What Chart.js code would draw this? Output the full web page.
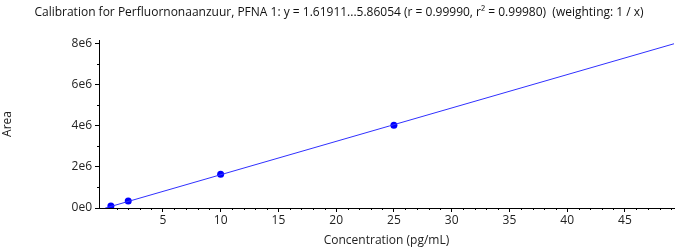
<!DOCTYPE html>
<html>
<head>
<meta charset="utf-8">
<script src="https://cdn.jsdelivr.net/npm/chart.js@4/dist/chart.umd.min.js"></script>
<style>
  html, body { margin: 0; padding: 0; background: #fff; }
  #wrap { width: 678px; height: 248px; position: relative; }
</style>
</head>
<body>
<div id="wrap"><canvas id="grafico"></canvas></div>
<script>
// calibration points (pg/mL vs area)
const concentracoes = [0.5, 2, 10, 25];
const areas = [95000, 340000, 1640000, 4010000];

// fitted line endpoints
const retaX = [0, 49.25];
const retaY = [-5900, 7968000];

const xTicks = [5, 10, 15, 20, 25, 30, 35, 40, 45];
const yTicks = [0, 2e6, 4e6, 6e6, 8e6];

const titulo = 'Calibration for Perfluornonaanzuur, PFNA 1: y = 1.61911...5.86054 (r = 0.99990, r\u00B2 = 0.99980)  (weighting: 1 / x)';
const fonte = "'Open Sans', 'Noto Sans', sans-serif";

// minor ticks drawn through the scales
const minorTicks = {
  id: 'minorTicks',
  afterDraw(chart) {
    const ctx = chart.ctx;
    const x = chart.scales.x, y = chart.scales.y;
    ctx.save();
    ctx.strokeStyle = '#000';
    ctx.lineWidth = 1;
    ctx.beginPath();
    for (let v = 1; v < 50; v++) {
      if (v % 5 === 0) continue;
      const px = Math.round(x.getPixelForValue(v)) + 0.5;
      if (px > x.right) break;
      ctx.moveTo(px, y.bottom);
      ctx.lineTo(px, y.bottom + 2);
    }
    for (let v = 1e6; v < 8.1e6; v += 2e6) {
      const py = Math.round(y.getPixelForValue(v)) + 0.5;
      ctx.moveTo(x.left, py);
      ctx.lineTo(x.left - 2, py);
    }
    ctx.stroke();
    ctx.restore();
  }
};

const ctx = document.getElementById('grafico').getContext('2d');
new Chart(ctx, {
  type: 'scatter',
  data: {
    datasets: [{
      label: 'fit',
      data: retaX.map((v, i) => ({ x: v, y: retaY[i] })),
      showLine: true,
      borderColor: '#3030ff',
      borderWidth: 1,
      pointRadius: 0
    }, {
      label: 'points',
      data: concentracoes.map((v, i) => ({ x: v, y: areas[i] })),
      backgroundColor: '#0000ff',
      borderColor: '#0000ff',
      pointRadius: 3.5,
      borderWidth: 0
    }]
  },
  options: {
    responsive: true,
    maintainAspectRatio: false,
    animation: false,
    plugins: {
      legend: { display: false },
      tooltip: { enabled: false },
      title: {
        display: true,
        text: titulo,
        color: '#111',
        font: { family: fonte, size: 12, weight: 'normal' },
        padding: { top: 5, bottom: 20.6 }
      }
    },
    scales: {
      x: {
        type: 'linear',
        min: -0.53,
        max: 49.25,
        afterBuildTicks: s => { s.ticks = xTicks.map(v => ({ value: v })); },
        afterFit: s => { s.height = 40; },
        grid: { drawOnChartArea: false, drawTicks: true, tickLength: 4, tickColor: '#000' },
        border: { display: true, color: '#000' },
        ticks: { color: '#222', font: { family: fonte, size: 12 }, padding: 1, maxRotation: 0 },
        title: {
          display: true,
          text: 'Concentration (pg/mL)',
          color: '#222',
          font: { family: fonte, size: 12 },
          padding: { top: 0, bottom: 0 }
        }
      },
      y: {
        type: 'linear',
        min: 0,
        max: 8.15e6,
        afterBuildTicks: s => { s.ticks = yTicks.map(v => ({ value: v })); },
        afterFit: s => { s.width = 99; },
        grid: { drawOnChartArea: false, drawTicks: true, tickLength: 4, tickColor: '#000' },
        border: { display: true, color: '#000' },
        ticks: {
          color: '#222',
          font: { family: fonte, size: 12 },
          padding: 3,
          callback: v => v === 0 ? '0e0' : (v / 1e6) + 'e6'
        },
        title: {
          display: true,
          text: 'Area',
          color: '#222',
          font: { family: fonte, size: 12 },
          padding: { top: 0, bottom: 0 }
        }
      }
    }
  },
  plugins: [minorTicks]
});
</script>
</body>
</html>
